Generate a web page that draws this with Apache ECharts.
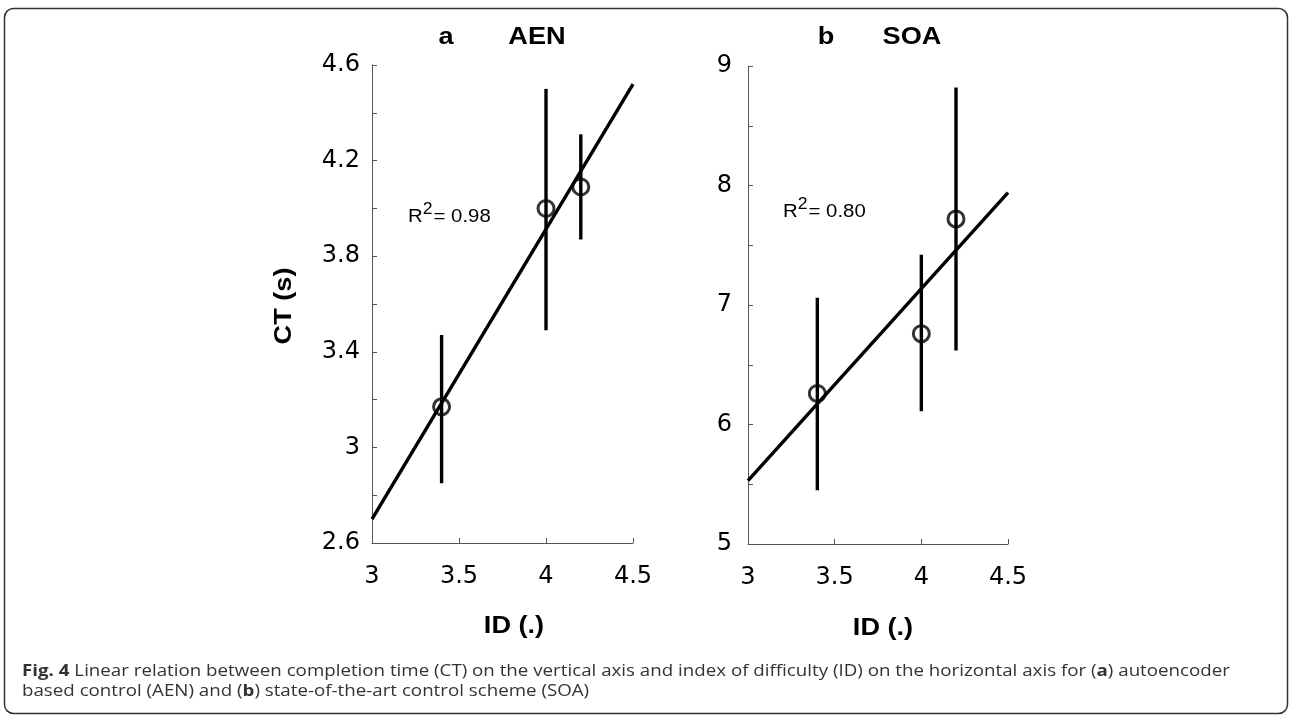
<!DOCTYPE html>
<html>
<head>
<meta charset="utf-8">
<title>Fig. 4 – CT vs ID</title>
<script src="https://cdn.jsdelivr.net/npm/echarts@6/dist/echarts.min.js"></script>
<style>
  html, body { margin: 0; padding: 0; background: #fff; }
  #chart { width: 1289px; height: 717px; }
</style>
</head>
<body>
<div id="chart"></div>
<script>
// Index of difficulty levels shared by both panels
const idLevels = [3.4, 4.0, 4.2];

// Panel a: autoencoder based control (AEN), completion time in s
const aenMean = [3.17, 4.00, 4.09];
const aenLow  = [2.85, 3.49, 3.87];
const aenHigh = [3.47, 4.50, 4.31];
const aenFit  = [[3.0, 2.70], [4.5, 4.52]];
const aenR2   = '0.98';

// Panel b: state-of-the-art control scheme (SOA), completion time in s
const soaMean = [6.26, 6.76, 7.72];
const soaLow  = [5.45, 6.11, 6.62];
const soaHigh = [7.06, 7.42, 8.82];
const soaFit  = [[3.0, 5.53], [4.5, 7.94]];
const soaR2   = '0.80';

const FONT = '"Liberation Sans", Arial, sans-serif';
const TICK_FONT = '"DejaVu Sans", "Liberation Sans", sans-serif';
const CAPTION_FONT = '"Open Sans", "Noto Sans", sans-serif';
const INK = '#000';
const AXIS = '#555';
const WIDE = 1.18;          // plot lettering is set wide
const CAPTION_WIDE = 1.135; // caption lettering

const chart = echarts.init(document.getElementById('chart'), null, { renderer: 'canvas' });

function xAxisFor(gridIndex) {
  return {
    type: 'value', gridIndex, min: 3, max: 4.5, interval: 0.5,
    axisLine: { show: true, lineStyle: { color: AXIS, width: 1 } },
    axisTick: { show: true, inside: true, length: 5, lineStyle: { color: AXIS } },
    axisLabel: { fontFamily: TICK_FONT, fontSize: 24, color: INK, margin: 22 },
    splitLine: { show: false }
  };
}

function yAxisFor(gridIndex, min, max, interval, margin) {
  return {
    type: 'value', gridIndex, min, max, interval,
    axisLine: { show: true, lineStyle: { color: AXIS, width: 1 } },
    axisTick: { show: true, inside: true, length: 5, lineStyle: { color: AXIS } },
    minorTick: { show: true, splitNumber: 2, length: 5, lineStyle: { color: AXIS } },
    axisLabel: { fontFamily: TICK_FONT, fontSize: 24, color: INK, margin },
    splitLine: { show: false },
    minorSplitLine: { show: false }
  };
}

function pointsOf(means) { return idLevels.map((x, i) => [x, means[i]]); }
function barsOf(low, high) { return idLevels.map((x, i) => [x, low[i], high[i]]); }

function errorBars(axisIndex, low, high) {
  return {
    type: 'custom', xAxisIndex: axisIndex, yAxisIndex: axisIndex,
    data: barsOf(low, high), silent: true, z: 3,
    renderItem: function (params, api) {
      const p0 = api.coord([api.value(0), api.value(1)]);
      const p1 = api.coord([api.value(0), api.value(2)]);
      return {
        type: 'line',
        shape: { x1: p0[0], y1: p0[1], x2: p1[0], y2: p1[1] },
        style: { stroke: INK, lineWidth: 3.4 }
      };
    }
  };
}

function fitLine(axisIndex, fit) {
  return {
    type: 'line', xAxisIndex: axisIndex, yAxisIndex: axisIndex,
    data: fit, showSymbol: false, symbol: 'none', silent: true, z: 3,
    lineStyle: { color: INK, width: 3.4 }
  };
}

function meanMarks(axisIndex, means) {
  return {
    type: 'scatter', xAxisIndex: axisIndex, yAxisIndex: axisIndex,
    data: pointsOf(means), symbol: 'circle', symbolSize: 16, silent: true, z: 4,
    itemStyle: { color: 'rgba(0,0,0,0)', borderColor: INK, borderWidth: 3 }
  };
}

function r2Text(left, midY, value) {
  return {
    type: 'text', x: left, y: midY, scaleX: 1.1,
    style: {
      text: '{r|R}{s|2}{r|= ' + value + '}',
      verticalAlign: 'middle',
      rich: {
        r: { fontFamily: FONT, fontSize: 18.5, fill: INK, verticalAlign: 'bottom', lineHeight: 24 },
        s: { fontFamily: FONT, fontSize: 16, fill: INK, verticalAlign: 'top', lineHeight: 24, padding: [0, 1, 6, 0] }
      }
    }
  };
}

function boldText(cx, cy, text, size, rotation) {
  return {
    type: 'text', x: cx, y: cy, scaleX: WIDE, rotation: rotation || 0,
    style: { text, fontFamily: FONT, fontSize: size, fontWeight: 'bold', fill: INK, align: 'center', verticalAlign: 'middle' }
  };
}

function captionLine(y, text) {
  return {
    type: 'text', x: 22, y, scaleX: CAPTION_WIDE,
    style: {
      text, fontFamily: CAPTION_FONT, fontSize: 16.5, fill: '#333', verticalAlign: 'middle',
      rich: { b: { fontFamily: CAPTION_FONT, fontSize: 16.5, fontWeight: 'bold', fill: '#333' } }
    }
  };
}

const option = {
  animation: false,
  backgroundColor: '#fff',
  grid: [
    { left: 372, top: 65, width: 261, height: 478 },
    { left: 748, top: 66, width: 260, height: 478 }
  ],
  xAxis: [xAxisFor(0), xAxisFor(1)],
  yAxis: [
    yAxisFor(0, 2.6, 4.6, 0.4, 12),
    yAxisFor(1, 5, 9, 1, 16)
  ],
  series: [
    fitLine(0, aenFit), errorBars(0, aenLow, aenHigh), meanMarks(0, aenMean),
    fitLine(1, soaFit), errorBars(1, soaLow, soaHigh), meanMarks(1, soaMean)
  ],
  graphic: [
    // outer figure frame
    {
      type: 'rect', shape: { x: 4.5, y: 8.5, width: 1283, height: 705, r: 9 },
      style: { fill: 'none', stroke: '#333', lineWidth: 1.5 }
    },
    // panel headings
    boldText(446, 38, 'a', 23), boldText(537, 38, 'AEN', 23),
    boldText(826, 38, 'b', 23), boldText(912, 38, 'SOA', 23),
    // axis titles
    boldText(285, 306, 'CT (s)', 23, Math.PI / 2),
    boldText(514, 627, 'ID (.)', 23),
    boldText(883, 629, 'ID (.)', 23),
    // goodness of fit
    r2Text(408, 214, aenR2),
    r2Text(783, 209, soaR2),
    // figure caption
    captionLine(671, '{b|Fig. 4} Linear relation between completion time (CT) on the vertical axis and index of difficulty (ID) on the horizontal axis for ({b|a}) autoencoder'),
    captionLine(691, 'based control (AEN) and ({b|b}) state-of-the-art control scheme (SOA)')
  ]
};

chart.setOption(option);
</script>
</body>
</html>
